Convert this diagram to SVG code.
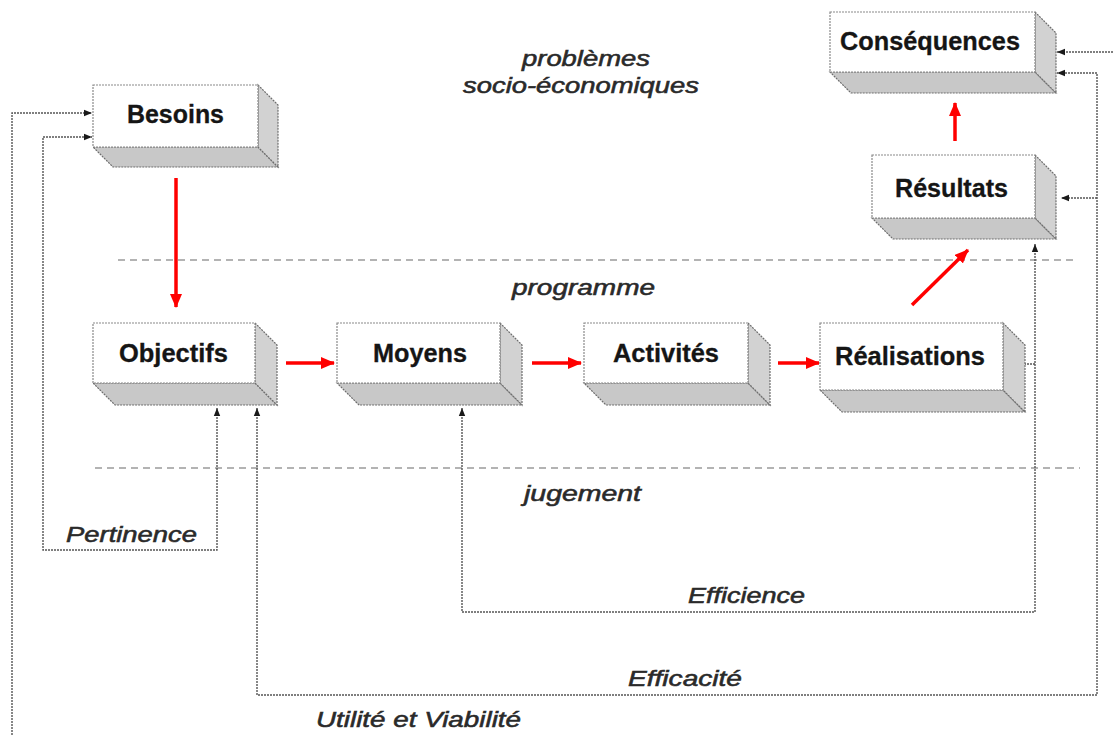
<svg xmlns="http://www.w3.org/2000/svg" width="1113" height="735" viewBox="0 0 1113 735">
<defs>
<style>
.front{fill:#ffffff;stroke:#8a8a8a;stroke-width:1.2;stroke-dasharray:2 1}
.side{fill:#d2d2d2;stroke:#6e6e6e;stroke-width:1.2;stroke-dasharray:2 1}
.bottom{fill:#c8c8c8;stroke:#6e6e6e;stroke-width:1.2;stroke-dasharray:2 1}
.lbl{font-family:"Liberation Sans",Arial,sans-serif;font-weight:bold;font-size:25px;fill:#151515;stroke:#151515;stroke-width:0.3}
.it{font-family:"Liberation Sans",Arial,sans-serif;font-style:italic;font-size:22px;fill:#2a2a2a;stroke:#2a2a2a;stroke-width:0.55}
.sep{stroke:#9a9a9a;stroke-width:1.3;stroke-dasharray:7 5;fill:none}
.con{stroke:#555555;stroke-width:1.4;stroke-dasharray:2 1;fill:none}
.red{stroke:#ff0000;stroke-width:3.5;fill:none}
</style>
<marker id="ah" viewBox="0 0 8 8" refX="8" refY="4" markerWidth="8" markerHeight="8" markerUnits="userSpaceOnUse" orient="auto-start-reverse">
<path d="M0,0.8 L8,4 L0,7.2 z" fill="#1a1a1a"/>
</marker>
<marker id="rh" viewBox="0 0 14 12" refX="13" refY="6" markerWidth="14" markerHeight="12" markerUnits="userSpaceOnUse" orient="auto">
<path d="M0,0 L14,6 L0,12 z" fill="#ff0000"/>
</marker>
</defs>
<rect width="1113" height="735" fill="#ffffff"/>

<g id="separators">
<line class="sep" x1="118" y1="260" x2="1078" y2="260"/>
<line class="sep" x1="95" y1="468" x2="1080" y2="468"/>
</g>

<g id="zone-labels">
<text class="it" x="522" y="66" textLength="128" lengthAdjust="spacingAndGlyphs">problèmes</text>
<text class="it" x="463" y="93" textLength="236" lengthAdjust="spacingAndGlyphs">socio-économiques</text>
<text class="it" x="512" y="295" textLength="143" lengthAdjust="spacingAndGlyphs">programme</text>
<text class="it" x="524" y="501" textLength="117" lengthAdjust="spacingAndGlyphs">jugement</text>
</g>

<g id="connectors">
<path class="con" d="M12,735 V113 H92" marker-end="url(#ah)"/>
<path class="con" d="M1113,52 H1057" marker-end="url(#ah)"/>
<path class="con" d="M217,408 V550 H43 V137 H92" marker-start="url(#ah)" marker-end="url(#ah)"/>
<path class="con" d="M257,408 V695 H1097 V73 H1057" marker-start="url(#ah)" marker-end="url(#ah)"/>
<path class="con" d="M1097,198 H1061" marker-end="url(#ah)"/>
<path class="con" d="M462,408 V612 H1035 V244" marker-start="url(#ah)" marker-end="url(#ah)"/>
<path class="con" d="M1035,364 H1016" marker-end="url(#ah)"/>
<line class="red" x1="176" y1="178" x2="176" y2="307" marker-end="url(#rh)"/>
<line class="red" x1="286" y1="363" x2="334" y2="363" marker-end="url(#rh)"/>
<line class="red" x1="532" y1="363" x2="581" y2="363" marker-end="url(#rh)"/>
<line class="red" x1="778" y1="363" x2="819" y2="363" marker-end="url(#rh)"/>
<line class="red" x1="912" y1="305" x2="968" y2="250" marker-end="url(#rh)"/>
<line class="red" x1="955" y1="141" x2="955" y2="103" marker-end="url(#rh)"/>
</g>

<g id="link-labels">
<text class="it" x="66" y="542" textLength="131" lengthAdjust="spacingAndGlyphs">Pertinence</text>
<text class="it" x="688" y="603" textLength="117" lengthAdjust="spacingAndGlyphs">Efficience</text>
<text class="it" x="628" y="686" textLength="114" lengthAdjust="spacingAndGlyphs">Efficacité</text>
<text class="it" x="316" y="727" textLength="205" lengthAdjust="spacingAndGlyphs">Utilité et Viabilité</text>
</g>

<g id="node-besoins">
<polygon class="bottom" points="93,147 258,147 278,167 113,167"/>
<polygon class="side" points="258,85 278,105 278,167 258,147"/>
<rect class="front" x="93" y="85" width="165" height="62"/>
<text class="lbl" x="127" y="123" textLength="97" lengthAdjust="spacingAndGlyphs">Besoins</text>
</g>

<g id="node-consequences">
<polygon class="bottom" points="830,72 1035,72 1056,93 851,93"/>
<polygon class="side" points="1035,12 1056,33 1056,93 1035,72"/>
<rect class="front" x="830" y="12" width="205" height="60"/>
<text class="lbl" x="840" y="50" textLength="180" lengthAdjust="spacingAndGlyphs">Conséquences</text>
</g>

<g id="node-resultats">
<polygon class="bottom" points="872,218 1035,218 1056,239 893,239"/>
<polygon class="side" points="1035,155 1056,176 1056,239 1035,218"/>
<rect class="front" x="872" y="155" width="163" height="63"/>
<text class="lbl" x="895" y="197" textLength="113" lengthAdjust="spacingAndGlyphs">Résultats</text>
</g>

<g id="node-objectifs">
<polygon class="bottom" points="93,383 255,383 277,405 115,405"/>
<polygon class="side" points="255,323 277,345 277,405 255,383"/>
<rect class="front" x="93" y="323" width="162" height="60"/>
<text class="lbl" x="119" y="362" textLength="109" lengthAdjust="spacingAndGlyphs">Objectifs</text>
</g>

<g id="node-moyens">
<polygon class="bottom" points="337,383 500,383 522,405 359,405"/>
<polygon class="side" points="500,323 522,345 522,405 500,383"/>
<rect class="front" x="337" y="323" width="163" height="60"/>
<text class="lbl" x="373" y="362" textLength="94" lengthAdjust="spacingAndGlyphs">Moyens</text>
</g>

<g id="node-activites">
<polygon class="bottom" points="584,383 748,383 770,405 606,405"/>
<polygon class="side" points="748,323 770,345 770,405 748,383"/>
<rect class="front" x="584" y="323" width="164" height="60"/>
<text class="lbl" x="613" y="362" textLength="106" lengthAdjust="spacingAndGlyphs">Activités</text>
</g>

<g id="node-realisations">
<polygon class="bottom" points="820,390 1003,390 1025,412 842,412"/>
<polygon class="side" points="1003,323 1025,345 1025,412 1003,390"/>
<rect class="front" x="820" y="323" width="183" height="67"/>
<text class="lbl" x="835" y="365" textLength="150" lengthAdjust="spacingAndGlyphs">Réalisations</text>
</g>
</svg>
